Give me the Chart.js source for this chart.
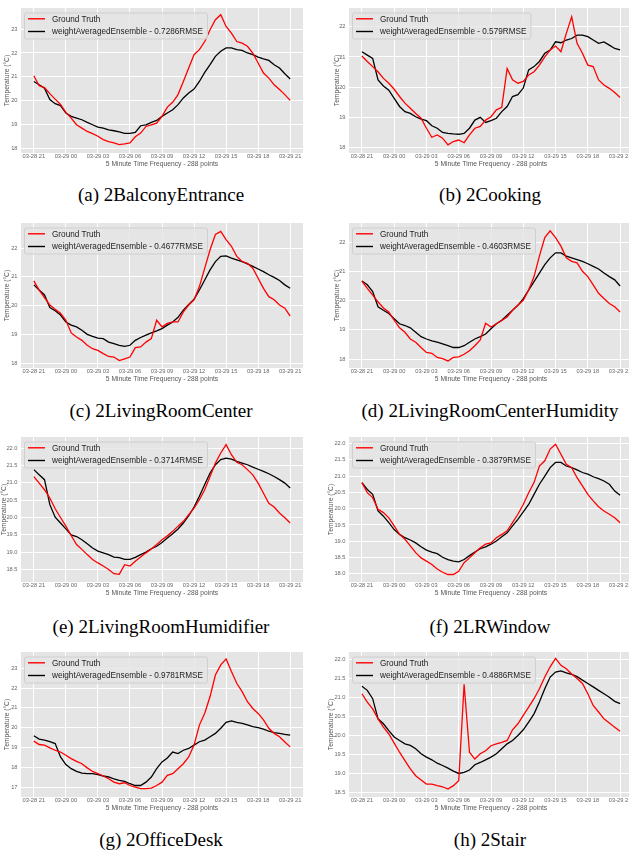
<!DOCTYPE html>
<html><head><meta charset="utf-8">
<script src="https://cdn.jsdelivr.net/npm/chart.js@4.4.1/dist/chart.umd.min.js"></script>
<style>
html,body{margin:0;padding:0;background:#fff;width:629px;height:853px;overflow:hidden;position:relative;}
canvas{position:absolute;}
.cap{position:absolute;font-family:"Liberation Serif","Times New Roman",serif;font-size:19px;line-height:22px;color:#000;white-space:nowrap;transform:translateX(-50%);}
</style></head><body>
<script>
// ---- shared x grid (hours after 03-28 21:00) ----
const hours = [0,0.5,1,1.5,2,2.5,3,3.5,4,4.5,5,5.5,6,6.5,7,7.5,8,8.5,9,9.5,10,10.5,11,11.5,12,12.5,13,13.5,14,14.5,15,15.5,16,16.5,17,17.5,18,18.5,19,19.5,20,20.5,21,21.5,22,22.5,23,23.5,24];
const tickHours = [0,3,6,9,12,15,18,21,24];
const tickLabels = ['03-28 21','03-29 00','03-29 03','03-29 06','03-29 09','03-29 12','03-29 15','03-29 18','03-29 21'];

// ---- series ----
const gtBalconyEntrance = [21.05,20.63,20.55,20.3,20.07,19.85,19.52,19.28,19.0,18.86,18.72,18.63,18.52,18.38,18.3,18.24,18.17,18.2,18.24,18.5,18.65,18.93,19.0,19.07,19.35,19.74,19.94,20.26,20.81,21.37,21.93,22.14,22.48,22.97,23.39,23.6,23.11,22.83,22.48,22.41,22.28,22.0,21.58,21.16,20.95,20.67,20.47,20.26,20.02];
const waeBalconyEntrance = [20.81,20.67,20.53,20.05,19.88,19.8,19.49,19.35,19.28,19.21,19.1,19.0,18.9,18.86,18.79,18.75,18.7,18.64,18.64,18.68,18.96,19.0,19.1,19.18,19.35,19.49,19.63,19.84,20.12,20.33,20.49,20.81,21.19,21.51,21.86,22.07,22.21,22.21,22.14,22.11,22.0,21.93,21.83,21.75,21.69,21.51,21.37,21.13,20.91];

const gtCooking = [21.03,20.85,20.68,20.51,20.29,20.13,19.93,19.69,19.47,19.3,19.13,18.97,18.64,18.34,18.42,18.31,18.09,18.2,18.25,18.16,18.42,18.64,18.7,18.91,19.02,19.25,19.33,20.62,20.24,20.13,20.19,20.4,20.51,20.73,21.0,21.23,21.36,21.17,21.78,22.33,21.45,21.12,20.73,20.68,20.24,20.07,19.96,19.82,19.66];
const waeCooking = [21.17,21.06,20.95,20.24,20.04,19.9,19.63,19.36,19.19,19.13,19.02,18.94,18.89,18.72,18.64,18.5,18.47,18.45,18.44,18.47,18.64,18.91,19.0,18.83,18.89,18.97,19.19,19.36,19.69,19.75,19.97,20.57,20.68,20.85,21.12,21.23,21.5,21.47,21.56,21.61,21.72,21.72,21.67,21.56,21.45,21.5,21.39,21.28,21.23];

const gtLivingRoomCenter = [20.86,20.54,20.28,20.02,19.87,19.73,19.49,19.05,18.91,18.79,18.62,18.5,18.44,18.33,18.23,18.21,18.09,18.15,18.21,18.54,18.56,18.73,18.85,19.49,19.26,19.38,19.43,19.43,19.78,20.02,20.2,20.66,21.3,21.94,22.47,22.58,22.29,22.06,21.71,21.53,21.47,21.3,20.95,20.6,20.31,20.2,20.02,19.91,19.63];
const waeLivingRoomCenter = [20.72,20.54,20.37,19.93,19.82,19.67,19.43,19.32,19.26,19.14,19.0,18.93,18.87,18.85,18.73,18.68,18.62,18.58,18.62,18.79,18.89,18.97,19.05,19.12,19.2,19.32,19.43,19.59,19.84,20.04,20.22,20.54,20.89,21.24,21.53,21.71,21.73,21.65,21.59,21.53,21.45,21.36,21.27,21.18,21.07,20.98,20.87,20.72,20.6];

const gtLivingRoomCenterHumidity = [20.67,20.42,20.19,19.96,19.75,19.61,19.33,19.07,18.92,18.69,18.58,18.4,18.23,18.2,18.06,18.02,17.94,18.06,18.08,18.17,18.29,18.46,18.66,19.23,19.1,19.21,19.32,19.44,19.67,19.84,20.01,20.36,20.82,21.52,22.15,22.38,22.15,21.86,21.46,21.34,21.29,21.0,20.82,20.54,20.25,20.07,19.9,19.79,19.61];
const waeLivingRoomCenterHumidity = [20.67,20.54,20.31,19.79,19.67,19.56,19.38,19.21,19.15,19.07,18.92,18.77,18.69,18.63,18.58,18.52,18.46,18.4,18.4,18.46,18.58,18.69,18.77,18.86,19.04,19.21,19.33,19.5,19.67,19.84,20.07,20.36,20.65,20.94,21.23,21.46,21.63,21.63,21.52,21.46,21.4,21.34,21.26,21.17,21.08,20.94,20.82,20.71,20.5];

const gtLivingRoomHumidifier = [21.18,20.99,20.8,20.56,20.25,20.0,19.75,19.48,19.22,19.08,18.93,18.79,18.69,18.6,18.5,18.38,18.36,18.64,18.6,18.74,18.86,18.98,19.09,19.22,19.36,19.47,19.6,19.75,19.89,20.08,20.27,20.51,20.8,21.18,21.57,21.86,22.1,21.81,21.59,21.52,21.38,21.23,20.99,20.7,20.41,20.3,20.13,19.99,19.84];
const waeLivingRoomHumidifier = [21.38,21.23,21.09,20.37,20.01,19.84,19.67,19.5,19.45,19.36,19.24,19.12,19.03,18.98,18.93,18.86,18.84,18.79,18.79,18.85,18.93,19.0,19.1,19.17,19.28,19.41,19.53,19.67,19.84,20.05,20.3,20.61,20.95,21.28,21.52,21.67,21.71,21.68,21.62,21.57,21.52,21.45,21.39,21.33,21.26,21.18,21.09,20.99,20.85];

const gtLRWindow = [20.8,20.49,20.34,19.98,19.88,19.72,19.47,19.21,19.06,18.86,18.65,18.49,18.39,18.29,18.15,18.05,17.98,17.98,18.08,18.34,18.49,18.65,18.8,18.91,18.95,19.11,19.21,19.32,19.57,19.83,20.13,20.49,20.8,21.31,21.47,21.83,21.98,21.67,21.36,21.26,20.95,20.7,20.44,20.24,20.06,19.93,19.83,19.72,19.57];
const waeLRWindow = [20.8,20.59,20.44,19.93,19.77,19.57,19.36,19.21,19.11,19.04,18.95,18.83,18.73,18.67,18.62,18.51,18.44,18.39,18.37,18.44,18.56,18.67,18.77,18.83,18.91,19.01,19.14,19.26,19.47,19.67,19.9,20.13,20.44,20.75,21.0,21.26,21.42,21.42,21.31,21.26,21.19,21.11,21.06,20.98,20.92,20.85,20.75,20.54,20.41];

const gtOfficeDesk = [19.32,19.15,19.12,18.98,18.86,18.77,18.61,18.44,18.3,18.18,17.97,17.79,17.68,17.56,17.42,17.25,17.17,17.22,17.08,17.0,16.92,16.92,16.95,17.08,17.25,17.59,17.68,17.93,18.18,18.52,19.12,20.13,20.73,21.57,22.66,23.17,23.47,22.83,22.24,21.82,21.31,20.97,20.72,20.39,19.97,19.71,19.54,19.28,19.03];
const waeOfficeDesk = [19.59,19.42,19.37,19.29,19.2,18.52,18.14,17.93,17.79,17.71,17.68,17.68,17.63,17.56,17.51,17.42,17.34,17.29,17.17,17.08,17.08,17.25,17.51,17.93,18.27,18.47,18.77,18.69,18.86,18.95,19.12,19.29,19.37,19.54,19.71,19.97,20.27,20.34,20.27,20.22,20.14,20.05,20.0,19.93,19.82,19.75,19.71,19.66,19.62];

const gtStair = [21.1,20.88,20.7,20.44,20.22,20.04,19.8,19.56,19.34,19.12,18.94,18.83,18.72,18.72,18.68,18.65,18.59,18.68,18.81,21.35,19.56,19.38,19.52,19.6,19.73,19.78,19.82,19.87,20.15,20.31,20.53,20.75,20.97,21.23,21.54,21.81,22.03,21.85,21.76,21.62,21.5,21.37,21.1,20.79,20.62,20.44,20.33,20.22,20.11];
const waeStair = [21.3,21.19,20.97,20.44,20.31,20.13,19.96,19.87,19.78,19.74,19.65,19.52,19.43,19.36,19.27,19.21,19.14,19.06,19.0,19.03,19.09,19.23,19.29,19.36,19.43,19.52,19.65,19.78,19.87,20.0,20.15,20.35,20.57,20.88,21.23,21.54,21.67,21.7,21.65,21.61,21.55,21.46,21.37,21.28,21.19,21.1,21.01,20.9,20.84];

const captions = ['(a) 2BalconyEntrance','(b) 2Cooking','(c) 2LivingRoomCenter','(d) 2LivingRoomCenterHumidity','(e) 2LivingRoomHumidifier','(f) 2LRWindow','(g) 2OfficeDesk','(h) 2Stair'];
const rmseLabels = ['0.7286','0.579','0.4677','0.4603','0.3714','0.3879','0.9781','0.4886'];

// ---- layout / styling (not data) ----
const SANS = '"Liberation Sans", Arial, sans-serif';
const panels = [
  {gt:gtBalconyEntrance, wae:waeBalconyEntrance, y:[17.82,23.88], step:1, tpad:3},
  {gt:gtCooking, wae:waeCooking, y:[17.82,22.62], step:1, tpad:19},
  {gt:gtLivingRoomCenter, wae:waeLivingRoomCenter, y:[17.83,22.87], step:1, tpad:3},
  {gt:gtLivingRoomCenterHumidity, wae:waeLivingRoomCenterHumidity, y:[17.7,22.65], step:1, tpad:19},
  {gt:gtLivingRoomHumidifier, wae:waeLivingRoomHumidifier, y:[18.14,22.32], step:0.5, tpad:0},
  {gt:gtLRWindow, wae:waeLRWindow, y:[17.75,22.2], step:0.5, tpad:13},
  {gt:gtOfficeDesk, wae:waeOfficeDesk, y:[16.5,23.82], step:1, tpad:3},
  {gt:gtStair, wae:waeStair, y:[18.38,22.2], step:0.5, tpad:13}
];
const areaTops = [8, 223, 437, 652];
const capCenters = [195, 411, 627, 840];
const AREA_H = 145, TOPPAD = 8, XAXIS_H = 16;
const cols = [
  {left:0, width:314, yw:21, capX:161},
  {left:314, width:330, yw:35, capX:490}
];

const bgLegend = {
  id:'bgLegend',
  beforeDraw(chart){
    const {ctx, chartArea:a} = chart;
    ctx.save();
    ctx.fillStyle = '#E5E5E5';
    ctx.fillRect(a.left, a.top, a.right - a.left, a.bottom - a.top);
    ctx.restore();
  },
  afterDatasetsDraw(chart){
    const {ctx, chartArea:a} = chart;
    const ds = chart.data.datasets;
    ctx.save();
    ctx.font = '8.2px ' + SANS;
    let tw = 0;
    ds.forEach(d => { tw = Math.max(tw, ctx.measureText(d.label).width); });
    const x0 = a.left + 3, y0 = a.top + 4.5, w = 28 + tw + 4, h = 26;
    ctx.beginPath();
    if (ctx.roundRect) ctx.roundRect(x0 + 0.5, y0 + 0.5, w, h, 2); else ctx.rect(x0 + 0.5, y0 + 0.5, w, h);
    ctx.fillStyle = 'rgba(229,229,229,0.8)';
    ctx.fill();
    ctx.strokeStyle = '#cfcfcf';
    ctx.lineWidth = 1;
    ctx.stroke();
    ds.forEach((d, i) => {
      const yy = y0 + 6.3 + i * 12.7;
      ctx.beginPath();
      ctx.moveTo(x0 + 4, yy); ctx.lineTo(x0 + 21, yy);
      ctx.strokeStyle = d.borderColor; ctx.lineWidth = 1.4; ctx.stroke();
      ctx.fillStyle = '#222';
      ctx.textBaseline = 'middle';
      ctx.textAlign = 'left';
      ctx.fillText(d.label, x0 + 28, yy + 0.5);
    });
    ctx.restore();
  }
};

panels.forEach((p, idx) => {
  const row = Math.floor(idx / 2), col = cols[idx % 2];
  const cv = document.createElement('canvas');
  const H = TOPPAD + AREA_H + XAXIS_H;
  cv.width = col.width; cv.height = H;
  cv.style.left = col.left + 'px';
  cv.style.top = (areaTops[row] - TOPPAD) + 'px';
  cv.style.width = col.width + 'px'; cv.style.height = H + 'px';
  document.body.appendChild(cv);

  const cap = document.createElement('div');
  cap.className = 'cap';
  cap.textContent = captions[idx];
  cap.style.left = col.capX + 'px';
  cap.style.top = (capCenters[row] - 11) + 'px';
  document.body.appendChild(cap);

  const tickFont = {family: SANS, size: 5.7};
  const titleFont = {family: SANS, size: 6.7};
  new Chart(cv, {
    type: 'line',
    data: {
      datasets: [
        {label: 'Ground Truth', data: hours.map((h, i) => ({x: h, y: p.gt[i]})), borderColor: '#ff0000', borderWidth: 1.3, pointRadius: 0, tension: 0, fill: false},
        {label: 'weightAveragedEnsemble - ' + rmseLabels[idx] + 'RMSE', data: hours.map((h, i) => ({x: h, y: p.wae[i]})), borderColor: '#000000', borderWidth: 1.3, pointRadius: 0, tension: 0, fill: false}
      ]
    },
    options: {
      responsive: false, animation: false, devicePixelRatio: 1,
      layout: {padding: {left: 0, right: 11, top: TOPPAD, bottom: 0}},
      plugins: {legend: {display: false}, tooltip: {enabled: false}, title: {display: false}},
      scales: {
        x: {
          type: 'linear', min: -1.2, max: 25.2,
          grid: {color: '#ffffff', lineWidth: 1, drawTicks: false},
          border: {display: false},
          ticks: {stepSize: 3, includeBounds: false, autoSkip: false, maxRotation: 0, padding: 0, color: '#666',
                  font: tickFont,
                  callback: v => { const i = tickHours.indexOf(v); return i >= 0 ? tickLabels[i] : ''; }},
          title: {display: true, text: '5 Minute Time Frequency - 288 points', color: '#555', font: titleFont, padding: {top: 0, bottom: 0.5}},
          afterFit: s => { s.height = XAXIS_H; }
        },
        y: {
          min: p.y[0], max: p.y[1],
          grid: {color: '#ffffff', lineWidth: 1, drawTicks: false},
          border: {display: false},
          ticks: {stepSize: p.step, includeBounds: false, padding: 3.5, color: '#666', font: tickFont,
                  callback: v => p.step < 1 ? Number(v).toFixed(1) : String(Math.round(v))},
          title: {display: true, text: 'Temperature (°C)', color: '#555', font: titleFont, padding: {top: p.tpad, bottom: 0}},
          afterFit: s => { s.width = col.yw; }
        }
      }
    },
    plugins: [bgLegend]
  });
});
</script>
</body></html>
